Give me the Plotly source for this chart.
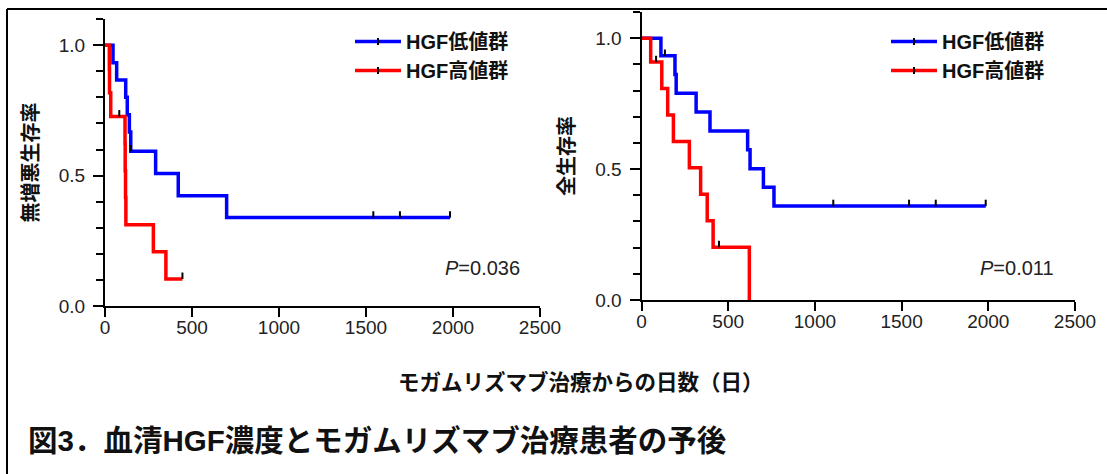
import plotly.graph_objects as go

W, H = 1107, 474

# ---------------- data ----------------
# Progression-free survival (left panel)
pfs_low_t = [0, 46, 67, 119, 128, 140, 148, 291, 421, 699, 1983]
pfs_low_s = [1.0, 0.933, 0.867, 0.800, 0.733, 0.667, 0.593, 0.508, 0.423, 0.339, 0.339]
pfs_low_cens_t = [148, 1542, 1695, 1983]
pfs_low_cens_s = [0.593, 0.339, 0.339, 0.339]

pfs_high_t = [0, 25, 26, 33, 115, 116, 118, 120, 278, 350, 445]
pfs_high_s = [1.0, 0.909, 0.818, 0.727, 0.623, 0.519, 0.416, 0.312, 0.208, 0.104, 0.104]
pfs_high_cens_t = [82, 445]
pfs_high_cens_s = [0.727, 0.104]

# Overall survival (right panel)
os_low_t = [0, 112, 193, 200, 315, 395, 612, 626, 703, 764, 1985]
os_low_s = [1.0, 0.933, 0.862, 0.790, 0.718, 0.646, 0.574, 0.502, 0.431, 0.359, 0.359]
os_low_cens_t = [135, 1106, 1543, 1697, 1985]
os_low_cens_s = [0.933, 0.359, 0.359, 0.359, 0.359]

os_high_t = [0, 53, 117, 151, 184, 276, 341, 379, 413, 622]
os_high_s = [1.0, 0.909, 0.808, 0.707, 0.606, 0.505, 0.404, 0.303, 0.202, 0.0]
os_high_cens_t = [84, 447]
os_high_cens_s = [0.909, 0.202]

group_names = ["HGF低値群", "HGF高値群"]
group_colors = ["#0000FF", "#FF0000"]
y_titles = ["無増悪生存率", "全生存率"]
p_values = ["0.036", "0.011"]
x_ticks = [0, 500, 1000, 1500, 2000, 2500]
y_ticks = [0.0, 0.5, 1.0]
x_title = "モガムリズマブ治療からの日数（日）"
fig_title = "図3．血清HGF濃度とモガムリズマブ治療患者の予後"

LAT = "Liberation Sans, Arial, Noto Sans CJK JP, sans-serif"
CJK = "Liberation Sans, Arial, Noto Sans CJK JP, sans-serif"


def px(p):
    return p / W


def py(p):
    return 1 - p / H


fig = go.Figure()

panels = [
    dict(xa="x", ya="y", leg="legend",
         series=[(pfs_low_t, pfs_low_s, pfs_low_cens_t, pfs_low_cens_s),
                 (pfs_high_t, pfs_high_s, pfs_high_cens_t, pfs_high_cens_s)]),
    dict(xa="x2", ya="y2", leg="legend2",
         series=[(os_low_t, os_low_s, os_low_cens_t, os_low_cens_s),
                 (os_high_t, os_high_s, os_high_cens_t, os_high_cens_s)]),
]

tick_off = 0.012  # censor tick drawn just above the curve
for pan in panels:
    for (t, s, ct, cs), name, col in zip(pan["series"], group_names, group_colors):
        fig.add_trace(go.Scatter(
            x=t, y=s, mode="lines", line=dict(color=col, width=3.5, shape="hv"),
            xaxis=pan["xa"], yaxis=pan["ya"], showlegend=False, hoverinfo="skip"))
        fig.add_trace(go.Scatter(
            x=ct, y=[v + tick_off for v in cs], mode="markers",
            marker=dict(symbol="line-ns", size=4.6, line=dict(color="black", width=2)),
            xaxis=pan["xa"], yaxis=pan["ya"], showlegend=False, cliponaxis=False,
            hoverinfo="skip"))
    for name, col in zip(group_names, group_colors):
        fig.add_trace(go.Scatter(
            x=[None], y=[None], mode="lines+markers", name=name,
            line=dict(color=col, width=3.5),
            marker=dict(symbol="line-ns", size=5, line=dict(color="black", width=2)),
            xaxis=pan["xa"], yaxis=pan["ya"], legend=pan["leg"]))

axis_common = dict(showline=True, linewidth=2, linecolor="black", showgrid=False,
                   zeroline=False, ticks="outside", tickwidth=2, tickcolor="black",
                   automargin=False,
                   tickfont=dict(family=LAT, size=19, color="#222"))

xdom = [[px(105), px(540)], [px(641.5), px(1075)]]
ydom = [[py(306), py(19)], [py(300), py(12)]]

for i, (xk, yk) in enumerate([("xaxis", "yaxis"), ("xaxis2", "yaxis2")]):
    fig.update_layout(**{
        xk: dict(axis_common, domain=xdom[i], range=[0, 2500], tickvals=x_ticks,
                 ticklen=9, ticklabelstandoff=-6, anchor="y" if i == 0 else "y2"),
        yk: dict(axis_common, domain=ydom[i], range=[0, 1.1005], tickvals=y_ticks,
                 tickformat=".1f", ticklen=10, ticklabelstandoff=4,
                 minor=dict(dtick=0.1, tick0=0, ticks="outside", ticklen=7,
                            tickwidth=2, tickcolor="black"),
                 anchor="x" if i == 0 else "x2",
                 title=dict(text=y_titles[i],
                            font=dict(family=CJK, size=20, color="#111", weight="bold"))),
    })

legend_common = dict(bgcolor="rgba(0,0,0,0)", xanchor="left", yanchor="top",
                     font=dict(family=CJK, size=20, color="#111", weight="bold"),
                     tracegroupgap=0, itemwidth=46)
fig.update_layout(
    legend=dict(legend_common, x=px(350), y=py(22)),
    legend2=dict(legend_common, x=px(886), y=py(22)),
)

# P-values
for i, (xr, yc) in enumerate([(522, 268), (1056, 268)]):
    fig.add_annotation(text=f"<i>P</i>={p_values[i]}", x=px(xr), y=py(yc),
                       xref="paper", yref="paper", xanchor="right", yanchor="middle",
                       showarrow=False, font=dict(family=LAT, size=20, color="#222"))

# shared x-axis title
fig.add_annotation(text=x_title, x=px(581), y=py(382), xref="paper", yref="paper",
                   xanchor="center", yanchor="middle", showarrow=False,
                   font=dict(family=CJK, size=21.5, color="#111", weight="bold"))

# frame of the figure
fig.add_shape(type="line", xref="paper", yref="paper", x0=px(7), x1=1.02, y0=py(9), y1=py(9),
              line=dict(color="black", width=2))
fig.add_shape(type="line", xref="paper", yref="paper", x0=px(7), x1=px(7), y0=py(9), y1=-0.02,
              line=dict(color="black", width=2))

fig.update_layout(
    width=W, height=H,
    margin=dict(l=0, r=0, t=0, b=0, autoexpand=False),
    paper_bgcolor="white", plot_bgcolor="white",
    title=dict(text=fig_title, x=px(28), xanchor="left", y=py(441), yanchor="middle",
               xref="container", yref="container",
               font=dict(family=CJK, size=29.5, color="#111", weight="bold")),
)

fig.write_html("out.html", config={"displayModeBar": False},
               post_script="document.body.style.margin='0';document.body.style.overflow='hidden';")
